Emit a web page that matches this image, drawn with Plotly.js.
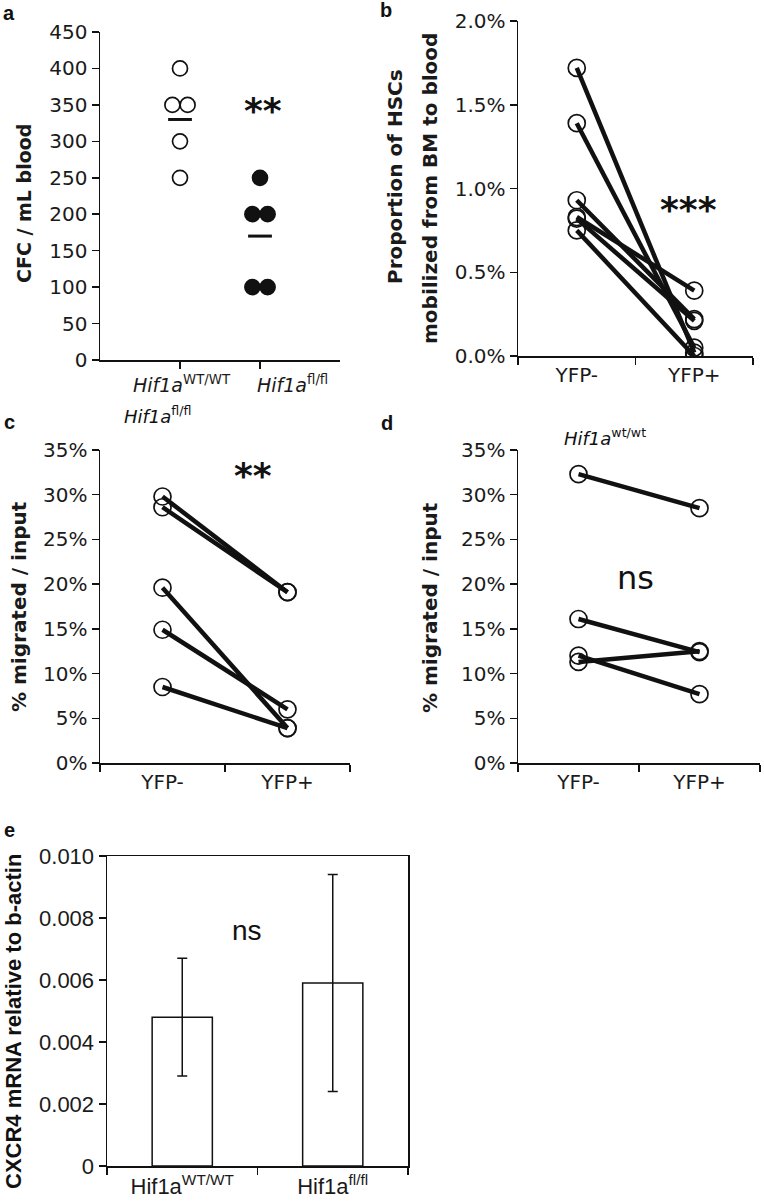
<!DOCTYPE html>
<html>
<head>
<meta charset="utf-8">
<script src="https://cdn.plot.ly/plotly-3.0.1.min.js"></script>
<style>html,body{margin:0;padding:0;background:#fff;}#chart{width:764px;height:1201px;}</style>
</head>
<body>
<div id="chart"></div>
<script>
// ---------- DATA ----------
// Panel a: CFC / mL blood
const aGroupLabels = ['<i>Hif1a</i><sup>WT/WT</sup>', '<i>Hif1a</i><sup>fl/fl</sup>'];
const aWT = [400, 350, 350, 300, 250];
const aFL = [250, 200, 200, 100, 100];

// Panel b: proportion of HSCs mobilized (%), paired YFP- / YFP+
const yfpCats = ['YFP-', 'YFP+'];
const bNeg = [1.72, 1.39, 0.93, 0.83, 0.82, 0.75];
const bPos = [0.02, 0.05, 0.22, 0.39, 0.21, 0.00];

// Panel c: Hif1a fl/fl, % migrated / input
const cNeg = [29.8, 28.6, 19.6, 14.9, 8.5];
const cPos = [19.1, 19.1, 3.9, 6.0, 3.9];

// Panel d: Hif1a wt/wt, % migrated / input
const dNeg = [32.3, 16.1, 12.0, 11.3];
const dPos = [28.5, 12.4, 7.7, 12.5];

// Panel e: CXCR4 mRNA relative to b-actin
const eCats = ['Hif1a<sup>WT/WT</sup>', 'Hif1a<sup>fl/fl</sup>'];
const eMeans = [0.0048, 0.0059];
const eErr = [0.0019, 0.0035];
const eTickVals = [0, 0.002, 0.004, 0.006, 0.008, 0.010];
const eTickText = ['0', '0.002', '0.004', '0.006', '0.008', '0.010'];

// ---------- HELPERS ----------
const W = 764, H = 1201;
const px = v => v / W;
const py = v => 1 - v / H;
const TICKFONT = {family: 'DejaVu Sans', size: 20, color: '#1a1a1a'};
const TITLEFONT = {family: 'DejaVu Sans', size: 19, color: '#1a1a1a', weight: 'bold'};

function jitter(vals, center, step) {
  const counts = {}, seen = {};
  vals.forEach(v => counts[v] = (counts[v] || 0) + 1);
  return vals.map(v => {
    const i = seen[v] || 0; seen[v] = i + 1;
    return center + (i - (counts[v] - 1) / 2) * step;
  });
}
const mean = a => a.reduce((s, v) => s + v, 0) / a.length;

const traces = [];
// Panel a
traces.push({x: jitter(aWT, 1, 0.19), y: aWT, xaxis: 'x', yaxis: 'y', mode: 'markers', type: 'scatter',
  marker: {symbol: 'circle', size: 15, color: '#fff', line: {color: '#111', width: 1.7}}});
traces.push({x: jitter(aFL, 2, 0.19), y: aFL, xaxis: 'x', yaxis: 'y', mode: 'markers', type: 'scatter',
  marker: {symbol: 'circle', size: 15, color: '#111', line: {color: '#111', width: 1.7}}});
traces.push({x: [1, 2], y: [mean(aWT), mean(aFL)], xaxis: 'x', yaxis: 'y', mode: 'markers', type: 'scatter',
  marker: {symbol: 'line-ew', size: 17, line: {color: '#111', width: 3}}});

function pairs(neg, pos, xa, ya) {
  neg.forEach((v, i) => {
    traces.push({x: yfpCats, y: [v, pos[i]], xaxis: xa, yaxis: ya, type: 'scatter', mode: 'lines+markers',
      line: {color: '#111', width: 4.5},
      marker: {symbol: 'circle', size: 17, color: 'rgba(0,0,0,0)', line: {color: '#111', width: 1.7}}});
  });
}
pairs(bNeg, bPos, 'x2', 'y2');
pairs(cNeg, cPos, 'x3', 'y3');
pairs(dNeg, dPos, 'x4', 'y4');

// Panel e
traces.push({x: eCats, y: eMeans, xaxis: 'x5', yaxis: 'y5', type: 'bar', width: 0.4,
  marker: {color: '#fff', line: {color: '#111', width: 1.5}},
  error_y: {type: 'data', array: eErr, visible: true, color: '#111', thickness: 1.5, width: 5}});

const baseAx = {showline: true, linecolor: '#111', linewidth: 1.5, ticks: 'outside', ticklen: 7,
  tickcolor: '#111', tickwidth: 1.5, showgrid: false, zeroline: false, tickfont: TICKFONT,
  tickangle: 0, fixedrange: true};
const E_FONT = {family: 'Liberation Sans, Arial', size: 22, color: '#1a1a1a'};

const layout = {
  width: W, height: H, margin: {l: 0, r: 0, t: 0, b: 0}, showlegend: false,
  paper_bgcolor: '#fff', plot_bgcolor: '#fff',
  xaxis: Object.assign({}, baseAx, {domain: [px(100), px(340)], anchor: 'y', range: [0, 3],
    tickvals: [1, 2], showticklabels: false}),
  yaxis: Object.assign({}, baseAx, {domain: [py(360), py(32)], anchor: 'x', range: [0, 450], dtick: 50}),
  xaxis2: Object.assign({}, baseAx, {domain: [px(518), px(753)], anchor: 'y2', type: 'category',
    tickson: 'boundaries', range: [-0.5, 1.5]}),
  yaxis2: Object.assign({}, baseAx, {domain: [py(356), py(21)], anchor: 'x2', range: [0, 2], dtick: 0.5,
    tickformat: '.1f', ticksuffix: '%'}),
  xaxis3: Object.assign({}, baseAx, {domain: [px(100), px(350)], anchor: 'y3', type: 'category',
    tickson: 'boundaries', range: [-0.5, 1.5]}),
  yaxis3: Object.assign({}, baseAx, {domain: [py(763), py(450)], anchor: 'x3', range: [0, 35], dtick: 5,
    ticksuffix: '%'}),
  xaxis4: Object.assign({}, baseAx, {domain: [px(518), px(760)], anchor: 'y4', type: 'category',
    tickson: 'boundaries', range: [-0.5, 1.5]}),
  yaxis4: Object.assign({}, baseAx, {domain: [py(763), py(450)], anchor: 'x4', range: [0, 35], dtick: 5,
    ticksuffix: '%'}),
  xaxis5: Object.assign({}, baseAx, {domain: [px(107), px(408)], anchor: 'y5', type: 'category',
    tickson: 'boundaries', range: [-0.5, 1.5], mirror: true, tickfont: E_FONT}),
  yaxis5: Object.assign({}, baseAx, {domain: [py(1166), py(856)], anchor: 'x5', range: [0, 0.010],
    tickvals: eTickVals, ticktext: eTickText, mirror: true, tickfont: E_FONT}),
  annotations: []
};

function ann(text, x, y, opts) {
  layout.annotations.push(Object.assign({text: text, xref: 'paper', yref: 'paper', x: px(x), y: py(y),
    xanchor: 'center', yanchor: 'middle', showarrow: false}, opts || {}));
}
// panel a group labels, anchored to the data axis categories
[1, 2].forEach((c, i) => {
  layout.annotations.push({text: aGroupLabels[i], xref: 'x', yref: 'paper', x: c, y: py(384),
    xanchor: 'center', yanchor: 'middle', showarrow: false, xshift: i === 0 ? 2 : 32,
    font: {family: 'DejaVu Sans', size: 19, color: '#1a1a1a'}});
});

const LBL = {family: 'Liberation Sans, Arial', size: 20, color: '#111', weight: 'bold'};
ann('a', 9, 13, {font: LBL});
ann('b', 386, 10, {font: LBL});
ann('c', 9, 422, {font: LBL});
ann('d', 387, 423, {font: LBL});
ann('e', 9, 830, {font: LBL});

// y titles
ann('CFC / mL blood', 24, 204, {textangle: -90, font: TITLEFONT});
ann('Proportion of HSCs', 395, 177, {textangle: -90, font: Object.assign({}, TITLEFONT, {size: 20})});
ann('mobilized from BM to blood', 430, 188, {textangle: -90, font: Object.assign({}, TITLEFONT, {size: 20})});
ann('% migrated / input', 19, 607, {textangle: -90, font: Object.assign({}, TITLEFONT, {size: 20})});
ann('% migrated / input', 430, 607, {textangle: -90, font: Object.assign({}, TITLEFONT, {size: 20})});
ann('CXCR4 mRNA relative to b-actin', 13, 1022, {textangle: -90,
  font: {family: 'Liberation Sans, Arial', size: 22, color: '#111', weight: 'bold'}});

// panel titles
ann('<i>Hif1a</i><sup>fl/fl</sup>', 157, 415, {font: {family: 'DejaVu Sans', size: 18, color: '#111'}});
ann('<i>Hif1a</i><sup>wt/wt</sup>', 605, 437, {font: {family: 'DejaVu Sans', size: 18, color: '#111'}});

// significance marks
const STAR = {family: 'DejaVu Sans', size: 36, color: '#111', weight: 'bold'};
ann('**', 263, 111, {font: STAR});
ann('***', 688, 209, {font: STAR});
ann('**', 253, 476, {font: STAR});
ann('ns', 635, 578, {font: {family: 'DejaVu Sans', size: 32, color: '#111'}});
ann('ns', 247, 930, {font: {family: 'Liberation Sans, Arial', size: 28, color: '#111'}});

Plotly.newPlot('chart', traces, layout, {staticPlot: true, displayModeBar: false});
</script>
</body>
</html>
